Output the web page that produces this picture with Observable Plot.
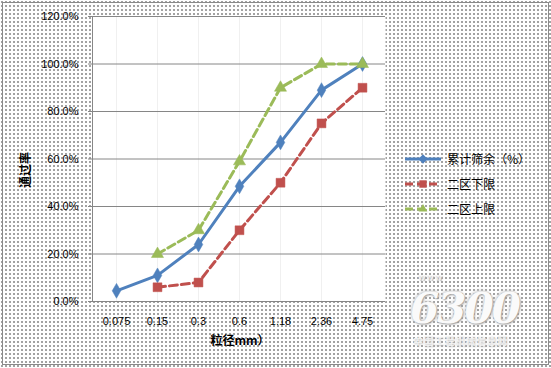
<!DOCTYPE html>
<html>
<head>
<meta charset="utf-8">
<script src="https://cdn.jsdelivr.net/npm/d3@7"></script>
<script src="https://cdn.jsdelivr.net/npm/@observablehq/plot@0.6"></script>
<style>
  html, body { margin: 0; padding: 0; background: #fff; }
  #chart {
    position: relative; width: 551px; height: 368px; overflow: hidden;
    background-color: #fff;
    background-image: radial-gradient(circle, #a0a0a0 0.7px, transparent 1.1px);
    background-size: 4px 4px;
  }
  #border { position: absolute; left: 2px; top: 2px; width: 545px; height: 361px; border: 1px solid #8a8a8a; pointer-events: none; }
  #chart > svg { position: absolute; left: 0; top: 0; }
  .ytitle { position: absolute; left: 24px; top: 170px; transform: translate(-50%, -50%) rotate(-90deg); font: bold 12px "Noto Sans CJK SC"; white-space: nowrap; }
  .xtitle { position: absolute; left: 240px; top: 339px; transform: translate(-50%, -50%); font: bold 12px "Noto Sans CJK SC"; white-space: nowrap; }
  .legend { position: absolute; left: 402px; top: 146px; font: 12px "Noto Sans CJK SC"; color: #000; }
  .legend .item { display: flex; align-items: center; height: 25px; }
  .legend svg { margin-right: 3px; }
  .wm { position: absolute; left: 410px; top: 284px; font: italic bold 42px "DejaVu Serif"; color: #fafafa; text-shadow: 1px 1px 2px #9a9a9a, -1px -1px 3px #cfcfcf; letter-spacing: -2px; }
  .wm0 { position: absolute; left: 418px; top: 272px; font: 9px/10px "DejaVu Sans"; color: #f5f5f5; text-shadow: 1px 1px 1px #aaa; letter-spacing: 1px; }
  .wm2 { position: absolute; left: 413px; top: 335px; font: 10px/12px "Noto Sans CJK SC"; color: #f4f4f4; text-shadow: 1px 1px 2px #b8b8b8; letter-spacing: 0.5px; }
</style>
</head>
<body>
<div id="chart"><div id="border"></div></div>
<script>
const categories = ["0.075", "0.15", "0.3", "0.6", "1.18", "2.36", "4.75"];
const cumulative = [4.5, 11, 24, 48.5, 67, 89, 100];
const lowerLimit = [null, 6, 8, 30, 50, 75, 90];
const upperLimit = [null, 20, 30, 59, 90, 100, 100];
const seriesNames = ["累计筛余（%）", "二区下限", "二区上限"];
const seriesColors = ["#4F81BD", "#C0504D", "#9BBB59"];
const seriesSymbols = ["diamond", "square", "triangle"];
const seriesDash = [null, "8,4", "8,4"];
const yTicks = [0, 20, 40, 60, 80, 100, 120];
const yTitle = "通过率";
const xTitle = "粒径mm）";

const seriesValues = [cumulative, lowerLimit, upperLimit];
const rows = [];
seriesValues.forEach((vals, s) => vals.forEach((v, i) => {
  if (v != null) rows.push({series: seriesNames[s], cat: categories[i], value: v, s});
}));

const lineMarks = [];
seriesNames.forEach((name, s) => {
  const data = rows.filter(r => r.s === s);
  lineMarks.push(Plot.line(data, {x: "cat", y: "value", stroke: seriesColors[s], strokeWidth: 3, strokeDasharray: seriesDash[s] ?? undefined}));
});
seriesNames.forEach((name, s) => {
  const data = rows.filter(r => r.s === s);
  lineMarks.push(Plot.dot(data, {x: "cat", y: "value", symbol: () => seriesSymbols[s], fill: seriesColors[s], stroke: seriesColors[s], strokeWidth: 0.5, r: s === 1 ? 5 : 4.5}));
});

const plot = Plot.plot({
  width: 551, height: 368,
  marginLeft: 92, marginRight: 166, marginTop: 16, marginBottom: 67,
  style: {background: "transparent", fontFamily: "Liberation Sans", fontSize: "11px", color: "#000", overflow: "visible"},
  x: {type: "point", domain: categories, padding: 0.5, label: null, tickSize: 0, tickPadding: 16},
  y: {domain: [0, 120], ticks: yTicks, tickFormat: d => d.toFixed(1) + "%", label: null, tickSize: 4, tickPadding: 10},
  marks: [
    Plot.frame({fill: "white", stroke: null}),
    Plot.ruleX(categories, {x: d => d, stroke: "#f0f0f0"}),
    Plot.gridY(yTicks, {stroke: "#868686", strokeOpacity: 1}),
    Plot.frame({anchor: "left", stroke: "#868686"}),
    Plot.axisY({ticks: yTicks, tickFormat: d => d.toFixed(1) + "%", tickSize: 4, tickPadding: 10, stroke: "#868686", label: null}),
    Plot.axisX({tickSize: 0, tickPadding: 16, label: null}),
    ...lineMarks
  ]
});

const chart = document.getElementById("chart");
chart.appendChild(plot);

const yt = document.createElement("div"); yt.className = "ytitle"; yt.textContent = yTitle; chart.appendChild(yt);
const xt = document.createElement("div"); xt.className = "xtitle"; xt.textContent = xTitle; chart.appendChild(xt);

const legend = document.createElement("div"); legend.className = "legend";
seriesNames.forEach((name, s) => {
  const item = document.createElement("div"); item.className = "item";
  const svg = d3.create("svg").attr("width", 42).attr("height", 14);
  svg.append("line").attr("x1", 3).attr("x2", 39).attr("y1", 7).attr("y2", 7)
    .attr("stroke", seriesColors[s]).attr("stroke-width", 3).attr("stroke-dasharray", seriesDash[s]);
  const sym = {diamond: d3.symbolDiamond2, square: d3.symbolSquare2, triangle: d3.symbolTriangle2}[seriesSymbols[s]];
  svg.append("path").attr("d", d3.symbol(sym, s === 1 ? 70 : 55)()).attr("transform", "translate(21,7)").attr("fill", seriesColors[s]);
  item.appendChild(svg.node());
  const t = document.createElement("span"); t.textContent = name; item.appendChild(t);
  legend.appendChild(item);
});
chart.appendChild(legend);

const wm0 = document.createElement("div"); wm0.className = "wm0"; wm0.textContent = "www"; chart.appendChild(wm0);
const wm = document.createElement("div"); wm.className = "wm"; wm.textContent = "6300"; chart.appendChild(wm);
const wm2 = document.createElement("div"); wm2.className = "wm2"; wm2.textContent = "中国工程机械信息网"; chart.appendChild(wm2);
</script>
</body>
</html>
